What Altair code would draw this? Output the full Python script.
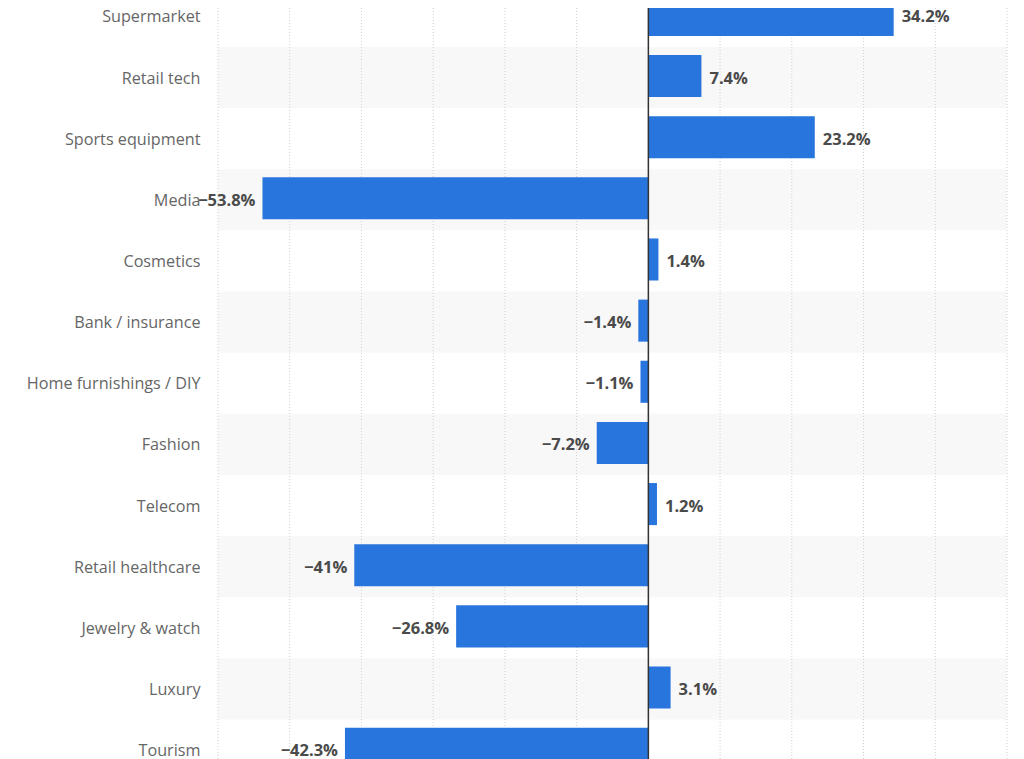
import altair as alt
import pandas as pd

categories = ["Supermarket", "Retail tech", "Sports equipment", "Media", "Cosmetics",
              "Bank / insurance", "Home furnishings / DIY", "Fashion", "Telecom",
              "Retail healthcare", "Jewelry & watch", "Luxury", "Tourism"]
values = [34.2, 7.4, 23.2, -53.8, 1.4, -1.4, -1.1, -7.2, 1.2, -41, -26.8, 3.1, -42.3]
grid_ticks = [-60, -50, -40, -30, -20, -10, 10, 20, 30, 40, 50]

def fmt(v):
    s = f"{v:g}%"
    return s.replace("-", "\u2212")

df = pd.DataFrame({"cat": categories, "value": values})
df["idx"] = range(len(categories))
df["y0"] = df["idx"] - 0.368
df["y1"] = df["idx"] + 0.32
df["label"] = [fmt(v) for v in values]

bands = pd.DataFrame({"idx": [i for i in range(len(categories)) if i % 2 == 1]})
bands["b0"] = bands["idx"] - 0.5
bands["b1"] = bands["idx"] + 0.5
bands["xa"] = -60
bands["xb"] = 50

grid = pd.DataFrame({"v": grid_ticks})

label_expr = "[" + ",".join('"' + c + '"' for c in categories) + "][datum.value]"

xscale = alt.Scale(domain=[-60, 50], nice=False, zero=False)
yscale = alt.Scale(domain=[-0.1366, 12.145], nice=False, zero=False, reverse=True)

band_layer = alt.Chart(bands).mark_rect(color="#f8f8f8", clip=True).encode(
    x=alt.X("xa:Q", scale=xscale, axis=None),
    x2="xb:Q",
    y=alt.Y("b0:Q", scale=yscale,
            axis=alt.Axis(values=list(range(len(categories))), labelExpr=label_expr,
                          ticks=False, domain=False, grid=False, labelPadding=18,
                          labelFont="Open Sans", labelFontSize=16.2, labelColor="#666666",
                          labelBaseline="middle", labelOffset=0.5, title=None)),
    y2="b1:Q",
)

grid_layer = alt.Chart(grid).mark_rule(color="#cfcfcf", strokeWidth=1, strokeDash=[1, 2]).encode(
    x=alt.X("v:Q", scale=xscale),
)

bar_layer = alt.Chart(df).mark_bar(color="#2876dd", clip=True).encode(
    x=alt.X("value:Q", scale=xscale),
    x2=alt.datum(0),
    y=alt.Y("y0:Q", scale=yscale),
    y2="y1:Q",
)

zero_layer = alt.Chart(pd.DataFrame({"z": [0]})).mark_rule(color="#333333", strokeWidth=1.5).encode(
    x=alt.X("z:Q", scale=xscale),
)

pos_text = alt.Chart(df).transform_filter("datum.value >= 0").mark_text(
    align="left", baseline="middle", dx=8, dy=1, font="Open Sans", fontSize=16.5,
    fontWeight="bold", color="#4a4a4a"
).encode(
    x=alt.X("value:Q", scale=xscale),
    y=alt.Y("idx:Q", scale=yscale),
    text="label:N",
)

neg_text = alt.Chart(df).transform_filter("datum.value < 0").mark_text(
    align="right", baseline="middle", dx=-7, dy=1, font="Open Sans", fontSize=16.5,
    fontWeight="bold", color="#4a4a4a"
).encode(
    x=alt.X("value:Q", scale=xscale),
    y=alt.Y("idx:Q", scale=yscale),
    text="label:N",
)

chart = alt.layer(band_layer, grid_layer, bar_layer, zero_layer, pos_text, neg_text).properties(
    width=789, height=751,
    autosize=alt.AutoSizeParams(type="none"),
    padding={"left": 210, "top": 0, "right": 9, "bottom": 0},
).configure_view(stroke=None)

chart.save("out.html", embed_options={"renderer": "svg", "actions": False})
